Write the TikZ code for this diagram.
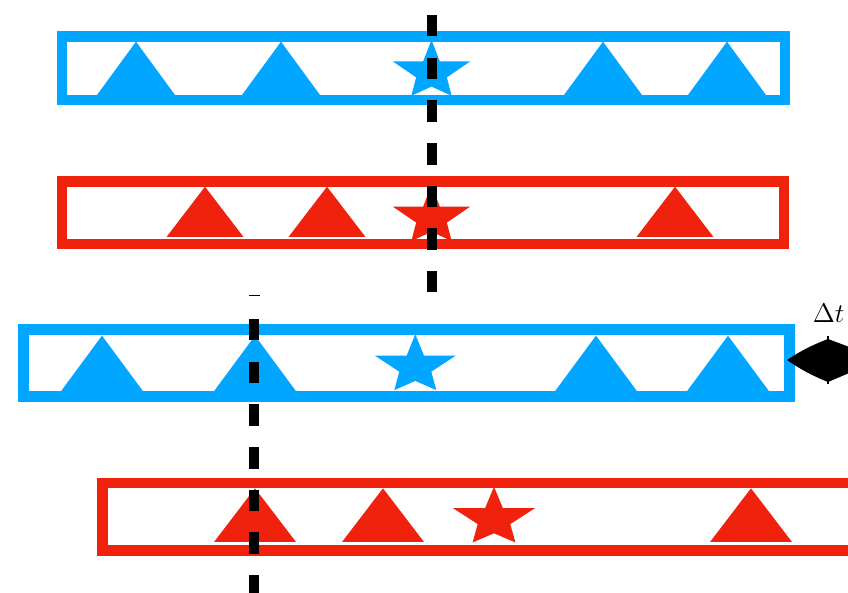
\documentclass[tikz,border=0pt]{standalone}
\usepackage{fix-cm}
\definecolor{myblue}{RGB}{0,166,255}
\definecolor{myred}{RGB}{240,34,14}
\newcommand\drawstar[4]{\fill[#3,shift={(#1,#2)},xscale=#4]
  (0,-30.8) -- (8.7,-9.4) -- (40.3,-9.4) -- (16,6.6) -- (21,25) -- (0,15.8) -- (-21,25) -- (-16,6.6) -- (-40.3,-9.4) -- (-8.7,-9.4) -- cycle;}
\begin{document}
\begin{tikzpicture}[x=0.5pt,y=-0.5pt,
  box/.style={line width=5.3pt},
  dashline/.style={line width=5pt, dash pattern=on 10.75pt off 10.6pt}]
\useasboundingbox (0,0) rectangle (848,593);
\clip (0,0) rectangle (848,593);
% boxes
\draw[box,myblue] (62,36.3) rectangle (785,100);
\draw[box,myred] (62,181.3) rectangle (784,244);
\draw[box,myblue,line width=5.5pt] (23.8,330) rectangle (789.5,397);
\draw[box,myred] (102.5,483) rectangle (900,550.3);
% triangles
\foreach \x in {136,281,603,727}
  \fill[myblue] ({\x-39},95) -- (\x,41.7) -- ({\x+39},95) -- cycle;
\foreach \x in {205,327,675}
  \fill[myred] ({\x-38.5},237) -- (\x,186.7) -- ({\x+38.5},237) -- cycle;
\foreach \x in {102,255,596,728}
  \fill[myblue] ({\x-41},391.2) -- (\x,335.7) -- ({\x+41},391.2) -- cycle;
\foreach \x in {255,383,751}
  \fill[myred] ({\x-41},542) -- (\x,488.3) -- ({\x+41},542) -- cycle;
% stars
\drawstar{431.5}{70.8}{myblue}{0.96}
\drawstar{431.5}{216}{myred}{0.96}
\drawstar{415.3}{365.1}{myblue}{1}
\drawstar{494}{517.5}{myred}{1.02}
% dashed lines
\draw[dashline] (432,15) -- (432,292.2);
\draw[dashline] (254,319) -- (254,600);
\draw[line width=0.8pt] (249,295.7) -- (260,295.7);
% delta t
\node[font=\fontsize{13.5}{15}\selectfont, anchor=base west, inner sep=0pt] (dt) at (812.5,323) {$\Delta t$};
\fill (787,360) to[bend left=6] (828,339) -- (848,346.5) -- (848,373.5) -- (828,382) to[bend left=6] (787,360) -- cycle;
\draw[line width=1pt] (828,336.5) -- (828,384.5);
\end{tikzpicture}
\end{document}
